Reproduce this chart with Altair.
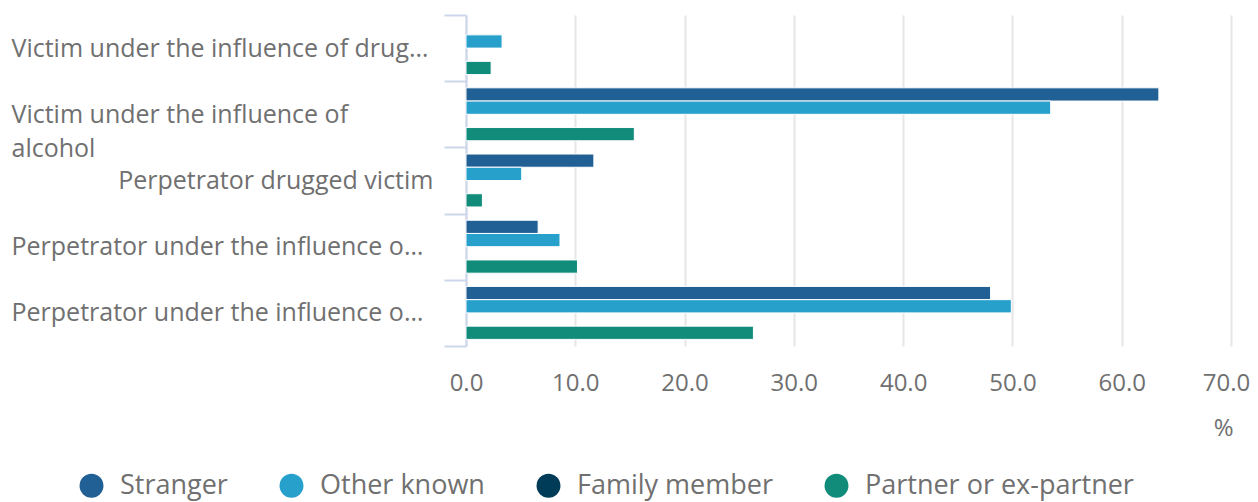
import altair as alt
import pandas as pd
import json

categories = [
    "Victim under the influence of drugs",
    "Victim under the influence of alcohol",
    "Perpetrator drugged victim",
    "Perpetrator under the influence of drugs",
    "Perpetrator under the influence of alcohol",
]
# labels as they are shown on the axis (truncated / wrapped as in the source)
shown_labels = [
    "Victim under the influence of drug…",
    ["Victim under the influence of", "alcohol"],
    "Perpetrator drugged victim",
    "Perpetrator under the influence o…",
    "Perpetrator under the influence o…",
]
series_names = ["Stranger", "Other known", "Family member", "Partner or ex-partner"]
series_colors = ["#206095", "#27a0cc", "#003c57", "#118c7b"]

stranger = [None, 63.4, 11.7, 6.6, 48.0]
other_known = [3.3, 53.5, 5.1, 8.6, 49.9]
family_member = [None, None, None, None, None]
partner = [2.3, 15.4, 1.5, 10.2, 26.3]

x_ticks = [0, 10, 20, 30, 40, 50, 60, 70]

rows = []
for name, vals in zip(series_names, [stranger, other_known, family_member, partner]):
    for cat, v in zip(categories, vals):
        if v is not None:
            rows.append({"category": cat, "series": name, "value": v})
df = pd.DataFrame(rows)

label_expr = ""
for cat, lab in zip(categories, shown_labels):
    label_expr += f"datum.value == {json.dumps(cat)} ? {json.dumps(lab, ensure_ascii=False)} : "
label_expr += "datum.label"

FONT = "Open Sans"
TXT = "#707070"
AXC = "#ccd6eb"
RIGHT_TEST = "datum.value == 'Perpetrator drugged victim'"

y_axis = alt.Axis(
    title=None,
    tickBand="extent",
    tickSize=22,
    tickWidth=2,
    tickColor=AXC,
    domainColor=AXC,
    domainWidth=2,
    grid=False,
    labelFont=FONT,
    labelFontSize=25,
    labelColor=TXT,
    labelLimit=0,
    labelLineHeight=34,
    labelExpr=label_expr,
    labelAlign={"condition": {"test": RIGHT_TEST, "value": "right"}, "value": "left"},
    labelPadding={"condition": {"test": RIGHT_TEST, "value": 11}, "value": 433},
)

x_axis = alt.Axis(
    values=x_ticks,
    format=".1f",
    domain=False,
    ticks=False,
    tickSize=0,
    grid=True,
    gridColor="#e6e6e6",
    gridWidth=2,
    labelFont=FONT,
    labelFontSize=24,
    labelColor=TXT,
    labelPadding=25,
    labelFlush=False,
    labelOffset={"condition": {"test": "datum.value == 70", "value": -5}, "value": 0},
    title="%",
    titleFont=FONT,
    titleFontSize=24,
    titleFontWeight="normal",
    titleColor=TXT,
    titleAnchor="end",
    titleX=767,
    titleAlign="right",
    titlePadding=21,
)

chart = (
    alt.Chart(df)
    .mark_bar(stroke="#ffffff", strokeWidth=1)
    .encode(
        x=alt.X("value:Q", scale=alt.Scale(domain=[0, 70], nice=False), axis=x_axis),
        y=alt.Y("category:N", sort=categories, scale=alt.Scale(domain=categories, paddingInner=0, paddingOuter=0), axis=y_axis),
        yOffset=alt.YOffset("series:N", scale=alt.Scale(domain=series_names, paddingInner=0, paddingOuter=0.5)),
        color=alt.Color(
            "series:N",
            scale=alt.Scale(domain=series_names, range=series_colors),
            legend=alt.Legend(
                title=None,
                orient="none",
                legendX=-388,
                legendY=457,
                direction="horizontal",
                symbolType="circle",
                symbolSize=573,
                symbolStrokeWidth=0,
                labelFont=FONT,
                labelFontSize=27,
                labelColor=TXT,
                labelOffset=15,
                columnPadding=50,
                padding=0,
                labelLimit=400,
            ),
        ),
    )
    .properties(
        width=765,
        height=331,
        autosize=alt.AutoSizeParams(type="none"),
        padding={"left": 458, "top": 7, "right": 19, "bottom": 160},
    )
    .configure_view(stroke=None)
)

chart.save("out.html", embed_options={"renderer": "svg", "actions": False})
